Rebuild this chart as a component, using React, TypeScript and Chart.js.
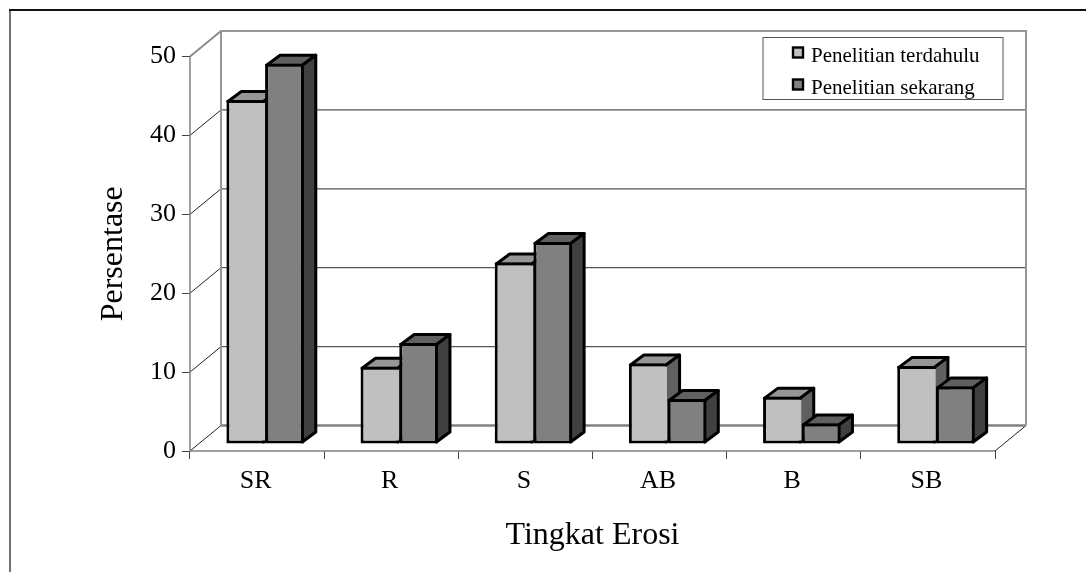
import React, { useEffect, useRef } from "react";
import { Chart, registerables } from "chart.js";

Chart.register(...registerables);

const categories = ["SR", "R", "S", "AB", "B", "SB"];
const seriesNames = ["Penelitian terdahulu", "Penelitian sekarang"];
const terdahulu = [43.6, 9.8, 23.0, 10.2, 6.0, 9.9];
const sekarang = [48.2, 12.8, 25.6, 5.7, 2.6, 7.3];
const yTicks = [0, 10, 20, 30, 40, 50];

const FRONT = ["#c0c0c0", "#808080"];
const TOP = ["#969696", "#606060"];
const SIDE = ["#606060", "#404040"];
const SERIF = "'Liberation Serif', 'Times New Roman', serif";

const WALL_DX = 31;
const WALL_DY = -25.5;
const BAR_DX = 8;
const BAR_DY = -7;
const DEPTH_X = 13.5;
const DEPTH_Y = -10;
const EDGE = 3;

const line = (ctx: CanvasRenderingContext2D, pts: number[][], color: string, w: number) => {
  ctx.beginPath();
  ctx.moveTo(pts[0][0], pts[0][1]);
  pts.slice(1).forEach((p) => ctx.lineTo(p[0], p[1]));
  ctx.strokeStyle = color;
  ctx.lineWidth = w;
  ctx.stroke();
};

const backdrop = {
  id: "backdrop",
  beforeDatasetsDraw(chart: any) {
    const { ctx, chartArea: a, scales } = chart;
    ctx.save();
    ctx.lineCap = "butt";
    // outer frame: only the left and top edges reach the picture
    line(ctx, [[10, 572], [10, 10]], "#444", 1.5);
    line(ctx, [[9, 10], [1086, 10]], "#111", 2);
    yTicks.forEach((v) => {
      const y = scales.y.getPixelForValue(v);
      if (v > 0 && v < 50) {
        line(ctx, [[a.left, y], [a.left + WALL_DX, y + WALL_DY]], "#222", 1);
        line(ctx, [[a.left + WALL_DX, y + WALL_DY], [a.right + WALL_DX, y + WALL_DY]], "#555", 1.2);
      }
    });
    const b = a.bottom;
    const t = a.top;
    line(ctx, [[a.left, b], [a.left + WALL_DX, b + WALL_DY]], "#222", 1);
    line(ctx, [[a.right, b], [a.right + WALL_DX, b + WALL_DY]], "#222", 1);
    line(ctx, [[a.left + WALL_DX, b + WALL_DY], [a.right + WALL_DX, b + WALL_DY]], "#808080", 2.5);
    line(ctx, [[a.left, t], [a.left + WALL_DX, t + WALL_DY]], "#8c8c8c", 2);
    line(ctx, [[a.left + WALL_DX, b + WALL_DY], [a.left + WALL_DX, t + WALL_DY], [a.right + WALL_DX, t + WALL_DY], [a.right + WALL_DX, b + WALL_DY]], "#969696", 2);
    line(ctx, [[a.left, t], [a.left, b], [a.right, b]], "#808080", 1.5);
    ctx.restore();
  },
  // The library would paint the last dataset first; paint the series front-to-back ourselves.
  beforeDatasetDraw() {
    return false;
  },
  afterDatasetsDraw(chart: any) {
    const { ctx } = chart;
    [0, 1].forEach((i) => {
      const meta = chart.getDatasetMeta(i);
      ctx.save();
      ctx.translate(BAR_DX, BAR_DY);
      ctx.lineJoin = "round";
      ctx.lineWidth = EDGE;
      ctx.strokeStyle = "#000";
      meta.data.forEach((bar: any) => {
        const p = bar.getProps(["x", "y", "base", "width"], true);
        const inset = EDGE / 2;
        const l = p.x - p.width / 2 + inset;
        const r = p.x + p.width / 2 - inset;
        const y = p.y + inset;
        const base = p.base - inset;
        ctx.beginPath();
        ctx.moveTo(l, y);
        ctx.lineTo(l + DEPTH_X, y + DEPTH_Y);
        ctx.lineTo(r + DEPTH_X, y + DEPTH_Y);
        ctx.lineTo(r, y);
        ctx.closePath();
        ctx.fillStyle = TOP[i];
        ctx.fill();
        ctx.stroke();
        ctx.beginPath();
        ctx.moveTo(r, y);
        ctx.lineTo(r + DEPTH_X, y + DEPTH_Y);
        ctx.lineTo(r + DEPTH_X, base + DEPTH_Y);
        ctx.lineTo(r, base);
        ctx.closePath();
        ctx.fillStyle = SIDE[i];
        ctx.fill();
        ctx.stroke();
      });
      meta.controller.draw();
      ctx.restore();
    });
  },
  afterDraw(chart: any) {
    const { ctx } = chart;
    ctx.save();
    ctx.fillStyle = "#fff";
    ctx.fillRect(763, 37.5, 240, 62);
    ctx.strokeStyle = "#555";
    ctx.lineWidth = 1;
    ctx.strokeRect(763, 37.5, 240, 62);
    ctx.font = `21px ${SERIF}`;
    ctx.textBaseline = "middle";
    ctx.textAlign = "left";
    chart.data.datasets.forEach((ds: any, i: number) => {
      const cy = i === 0 ? 52.5 : 84.5;
      ctx.fillStyle = FRONT[i];
      ctx.strokeStyle = "#000";
      ctx.lineWidth = 2.4;
      ctx.fillRect(793, cy - 5, 10, 10);
      ctx.strokeRect(793, cy - 5, 10, 10);
      ctx.fillStyle = "#000";
      ctx.fillText(ds.label, 811, cy + 3.5);
    });
    ctx.restore();
  },
};

export default function App() {
  const ref = useRef<HTMLCanvasElement | null>(null);
  useEffect(() => {
    document.body.style.margin = "0";
    document.body.style.background = "#fff";
    const chart = new Chart(ref.current!, {
      type: "bar",
      data: {
        labels: categories,
        datasets: [terdahulu, sekarang].map((data, i) => ({
          label: seriesNames[i],
          data,
          backgroundColor: FRONT[i],
          borderColor: "#000",
          borderWidth: { top: EDGE, left: EDGE, bottom: EDGE, right: i === 0 ? 0 : EDGE },
          borderSkipped: false,
          clip: false,
          categoryPercentage: 0.577,
          barPercentage: 1,
        })),
      },
      options: {
        animation: false,
        responsive: false,
        devicePixelRatio: 1,
        layout: { padding: { left: 0, top: 56.5, right: 91, bottom: 0 } },
        plugins: { legend: { display: false }, tooltip: { enabled: false } },
        scales: {
          x: {
            afterFit: (s: any) => { s.height = 121; },
            grid: { drawOnChartArea: false, drawTicks: true, tickLength: 8, color: "#444", lineWidth: 1 },
            border: { display: false },
            ticks: { color: "#000", font: { family: SERIF, size: 26 }, padding: 7, maxRotation: 0, labelOffset: -1.5 },
            title: { display: true, text: "Tingkat Erosi", color: "#000", font: { family: SERIF, size: 32 }, padding: { top: 0, bottom: 17 } },
          },
          y: {
            min: 0,
            max: 50,
            afterFit: (s: any) => { s.width = 190; },
            afterBuildTicks: (s: any) => { s.ticks = yTicks.map((value) => ({ value })); },
            grid: { drawOnChartArea: false, drawTicks: true, tickLength: 8, color: "#444", lineWidth: 1 },
            border: { display: false },
            ticks: { color: "#000", font: { family: SERIF, size: 26 }, padding: 6 },
            title: { display: true, text: "Persentase", color: "#000", font: { family: SERIF, size: 32 }, padding: { top: 94, bottom: 0 } },
          },
        },
      },
      plugins: [backdrop],
    } as any);
    return () => chart.destroy();
  }, []);
  return <canvas ref={ref} width={1086} height={572} style={{ display: "block", width: 1086, height: 572 }} />;
}
